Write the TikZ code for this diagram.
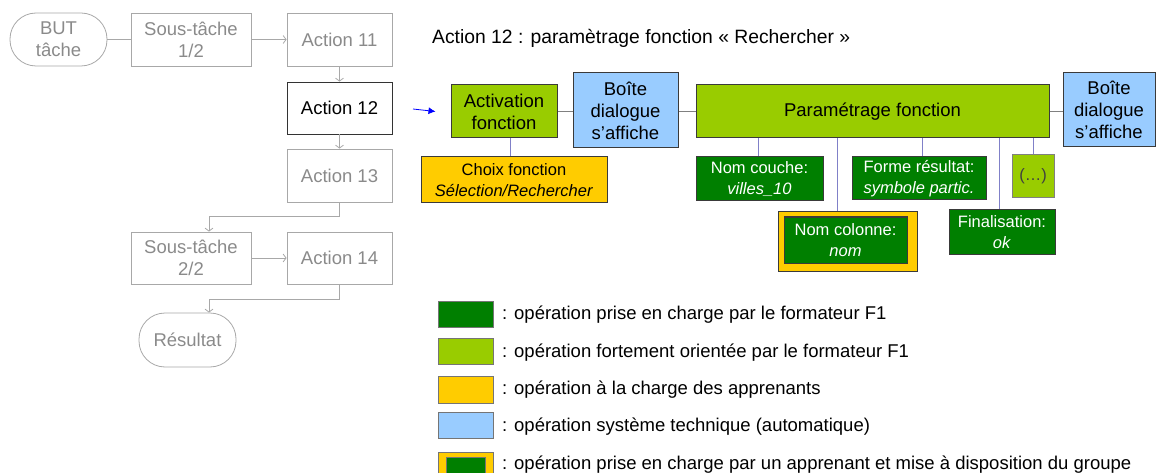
\documentclass[tikz,border=0pt]{standalone}
\usepackage{fontspec}
\setmainfont{Liberation Sans}
\usetikzlibrary{arrows.meta}
\definecolor{dkgreen}{HTML}{007F00}
\definecolor{ltgreen}{HTML}{99CC00}
\definecolor{gold}{HTML}{FFCC00}
\definecolor{ltblue}{HTML}{99CCFF}
\definecolor{grayline}{HTML}{A8A8A8}
\definecolor{graytext}{HTML}{8A8A8A}
\definecolor{purpline}{HTML}{8080C8}
\definecolor{bord}{HTML}{3A3A3A}
\tikzset{
  x=1pt, y=-1pt,
  flow/.style={draw=grayline, line width=0.8pt, text=graytext, align=center, inner sep=0pt,
    font=\fontsize{18.5}{22}\selectfont},
  flowbox/.style={flow, rectangle},
  term/.style={flow, rounded corners=26pt},
  flowarr/.style={draw=grayline, line width=0.8pt, -{Straight Barb[length=3pt,width=8pt]}},
  flowline/.style={draw=grayline, line width=0.8pt},
  opbox/.style={draw=bord, line width=1pt, align=center, inner sep=0pt},
  big/.style={opbox, font=\fontsize{18.5}{22}\selectfont},
  small/.style={opbox, font=\fontsize{16.5}{20.5}\selectfont},
  hline/.style={draw=gray, line width=0.8pt},
  vline/.style={draw=purpline, line width=0.8pt},
  swatch/.style={draw=bord!70, line width=0.8pt, minimum width=55pt, minimum height=26pt, inner sep=0pt},
  legtext/.style={anchor=west, inner sep=0pt, font=\fontsize{18.5}{22}\selectfont},
}
\begin{document}
\begin{tikzpicture}
\useasboundingbox (0,0) rectangle (1156,473);
% left flow chart
\node[term, minimum width=97pt, minimum height=53pt] (but) at (58.5,39.5) {BUT\\tâche};
\node[flowbox, minimum width=120pt, minimum height=53pt] (st1) at (191,39.5) {Sous-tâche\\1/2};
\node[flowbox, minimum width=105pt, minimum height=53pt] (a11) at (339.5,39.5) {Action 11};
\node[flowbox, draw=black!80, text=black, minimum width=105pt, minimum height=52pt] (a12) at (339.5,108) {Action 12};
\node[flowbox, minimum width=105pt, minimum height=53pt] (a13) at (339.5,175.5) {Action 13};
\node[flowbox, minimum width=120pt, minimum height=52pt] (st2) at (191,258) {Sous-tâche\\2/2};
\node[flowbox, minimum width=105pt, minimum height=52pt] (a14) at (339.5,258) {Action 14};
\node[term, minimum width=97pt, minimum height=54pt] (res) at (187.5,340) {Résultat};
\draw[flowline] (but) -- (st1);
\draw[flowarr] (st1) -- (a11);
\draw[flowarr] (a11) -- (a12);
\draw[flowarr] (a12) -- (a13);
\draw[flowarr] (a13.south) -- ++(0,14) -| ([xshift=18pt]st2.north);
\draw[flowarr] (st2) -- (a14);
\draw[flowarr] (a14.south) -- ++(0,15) -| ([xshift=21.5pt]res.north);
% title
\node[anchor=west, inner sep=0pt, font=\fontsize{19.3}{22}\selectfont] (title) at (432,38) {Action 12 : paramètrage fonction « Rechercher »};
% right diagram
\node[big, fill=ltgreen, minimum width=106pt, minimum height=53pt] (act) at (504,111.5) {Activation\\fonction};
\node[big, fill=ltblue, minimum width=105pt, minimum height=75pt] (bo1) at (625.5,110.5) {Boîte\\dialogue\\s’affiche};
\node[big, fill=ltgreen, minimum width=353pt, minimum height=53pt] (par) at (872.5,111.5) {Paramétrage fonction};
\node[big, fill=ltblue, minimum width=92pt, minimum height=74pt] (bo2) at (1109,110) {Boîte\\dialogue\\s’affiche};
\coordinate (arrS) at (413,109);
\draw[blue, line width=0.8pt, -{Latex[length=7pt,width=7pt]}] (arrS) -- ([xshift=-15pt]act.west);
\draw[hline] (act.east) -- (bo1.west |- act.east);
\draw[hline] (bo1.east |- par.west) -- (par.west);
\draw[hline] (par.east) -- (bo2.west |- par.east);
\node[small, fill=gold, minimum width=186pt, minimum height=46pt] (cho) at (514,180) {Choix fonction\\\textit{Sélection/Rechercher}};
\node[small, fill=dkgreen, text=white, minimum width=127pt, minimum height=44pt] (cou) at (759.5,179) {Nom couche:\\\textit{villes\_10}};
\node[small, fill=gold, minimum width=139pt, minimum height=59pt] (colo) at (847.5,241.5) {};
\node[small, fill=dkgreen, text=white, minimum width=123pt, minimum height=46pt] (col) at (845.5,240) {Nom colonne:\\\textit{nom}};
\node[small, fill=dkgreen, text=white, minimum width=134pt, minimum height=43pt] (for) at (919,178.5) {Forme résultat:\\\textit{symbole partic.}};
\node[small, fill=dkgreen, text=white, minimum width=106pt, minimum height=44pt] (fin) at (1002,232) {Finalisation:\\\textit{ok}};
\node[small, draw=gray, fill=ltgreen, text=black!75, minimum width=42pt, minimum height=43pt] (etc) at (1033,176.5) {(…)};
\coordinate (x1) at (510,0);
\coordinate (x2) at (758,0);
\coordinate (x3) at (837,0);
\coordinate (x4) at (922,0);
\coordinate (x5) at (999,0);
\draw[vline] (act.south -| x1) -- (cho.north -| x1);
\draw[vline] (par.south -| x2) -- (cou.north -| x2);
\draw[vline] (par.south -| x3) -- (colo.north -| x3);
\draw[vline] (par.south -| x4) -- (for.north -| x4);
\draw[vline] (par.south -| x5) -- (fin.north -| x5);
\draw[vline] (par.south -| etc.north) -- (etc.north);
% legend
\node[swatch, fill=dkgreen] (s1) at (465.5,314) {};
\node[swatch, fill=ltgreen] (s2) at (465.5,351) {};
\node[swatch, fill=gold, minimum height=27pt] (s3) at (465.5,389.5) {};
\node[swatch, fill=ltblue] (s4) at (465.5,425) {};
\node[swatch, fill=gold, minimum height=26pt] (s5) at (465.5,465) {};
\node[draw=bord!70, line width=0.6pt, fill=dkgreen, minimum width=39pt, minimum height=22pt, inner sep=0pt] (s5i) at (465.5,468) {};
\node[legtext] (l1) at (502,315) {: opération prise en charge par le formateur F1};
\node[legtext] (l2) at (502,353) {: opération fortement orientée par le formateur F1};
\node[legtext] (l3) at (502,390) {: opération à la charge des apprenants};
\node[legtext] (l4) at (502,427) {: opération système technique (automatique)};
\node[legtext] (l5) at (502,465) {: opération prise en charge par un apprenant et mise à disposition du groupe};
\end{tikzpicture}
\end{document}
